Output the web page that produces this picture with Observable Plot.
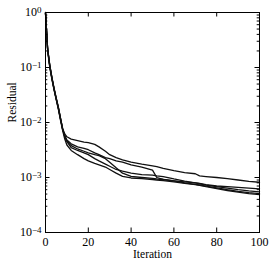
<!DOCTYPE html>
<html><head><meta charset="utf-8">
<script src="https://cdn.jsdelivr.net/npm/d3@7"></script>
<script src="https://cdn.jsdelivr.net/npm/@observablehq/plot@0.6"></script>
<style>body{margin:0;background:#fff} svg{display:block}</style>
</head><body><div id="chart"></div>
<script>
const iterations = [0,1,2,3,4,5,6,7,8,9,10,12,15,18,20,23,25,28,30,33,36,40,45,50,52,55,60,65,70,72,75,80,85,90,95,100];
const runA = [1.0,0.22,0.11,0.066,0.042,0.028,0.019,0.012,0.0078,0.0062,0.0055,0.005,0.0047,0.0044,0.0043,0.004,0.0036,0.003,0.0026,0.0023,0.0021,0.0019,0.00175,0.00163,0.00158,0.00146,0.00133,0.00123,0.00117,0.00107,0.00104,0.001,0.00095,0.0009,0.00085,0.00082];
const runB = [0.97,0.21,0.105,0.063,0.04,0.027,0.018,0.0115,0.0075,0.0058,0.0048,0.0041,0.0036,0.0034,0.0032,0.0028,0.0026,0.0023,0.0022,0.002,0.0019,0.0017,0.00155,0.00136,0.001,0.00092,0.00087,0.00083,0.0008,0.00078,0.00074,0.0007,0.00068,0.00066,0.00064,0.00062];
const runC = [0.98,0.215,0.108,0.064,0.041,0.027,0.0185,0.0118,0.0076,0.0055,0.0045,0.0035,0.0031,0.0028,0.0026,0.0022,0.002,0.00175,0.0016,0.0014,0.0013,0.0012,0.00113,0.0011,0.00107,0.00104,0.00094,0.00086,0.0008,0.00077,0.00073,0.00068,0.00064,0.0006,0.00057,0.00055];
const runD = [0.96,0.2,0.1,0.061,0.039,0.026,0.0175,0.011,0.0072,0.005,0.0039,0.0031,0.0026,0.0022,0.002,0.0018,0.0017,0.00155,0.0014,0.0012,0.00105,0.00098,0.00095,0.00092,0.0009,0.00088,0.00083,0.00078,0.00074,0.00072,0.00068,0.00063,0.00058,0.00054,0.00051,0.00049];
const runE = [0.99,0.22,0.107,0.065,0.041,0.0275,0.0188,0.012,0.0077,0.0056,0.0046,0.0038,0.0033,0.003,0.0028,0.0026,0.0025,0.0022,0.0019,0.0015,0.0012,0.00105,0.001,0.00096,0.00094,0.00092,0.00087,0.0008,0.00075,0.00073,0.0007,0.00065,0.0006,0.00056,0.00053,0.00051];
const xTicks = [0,20,40,60,80,100];
const yTicks = [1e-4,1e-3,1e-2,1e-1,1];
const yMinorTicks = [2e-4,3e-4,4e-4,5e-4,6e-4,7e-4,8e-4,9e-4,2e-3,3e-3,4e-3,5e-3,6e-3,7e-3,8e-3,9e-3,2e-2,3e-2,4e-2,5e-2,6e-2,7e-2,8e-2,9e-2,0.2,0.3,0.4,0.5,0.6,0.7,0.8,0.9];
const xLabel = "Iteration";
const yLabel = "Residual";

const runs = [runA, runB, runC, runD, runE];
const rows = runs.flatMap((r, k) => iterations.map((it, i) => ({run: k, iteration: it, residual: r[i]})));

const W = 274, H = 267, mL = 45, mR = 15, mT = 12, mB = 35;
const iw = W - mL - mR, ih = H - mT - mB;
const major = 4.5, minor = 2.3;

const chart = Plot.plot({
  width: W, height: H,
  marginLeft: mL, marginRight: mR, marginTop: mT, marginBottom: mB,
  style: {fontFamily: "'Liberation Serif', 'DejaVu Serif', serif", fontSize: "12px", background: "#fff", color: "#000"},
  x: {domain: [0, 100]},
  y: {type: "log", domain: [1e-4, 1]},
  marks: [
    Plot.line(rows, {x: "iteration", y: "residual", z: "run", stroke: "#111", strokeWidth: 1.3}),
    Plot.ruleY(yTicks, {insetRight: iw - major, stroke: "#000"}),
    Plot.ruleY(yTicks, {insetLeft: iw - major, stroke: "#000"}),
    Plot.ruleY(yMinorTicks, {insetRight: iw - minor, stroke: "#000"}),
    Plot.ruleY(yMinorTicks, {insetLeft: iw - minor, stroke: "#000"}),
    Plot.ruleX(xTicks, {insetTop: ih - major, stroke: "#000"}),
    Plot.ruleX(xTicks, {insetBottom: ih - major, stroke: "#000"}),
    Plot.frame({stroke: "#000", strokeWidth: 1}),
    Plot.axisX(xTicks, {tickSize: 0, tickPadding: 5, label: null, fontSize: 12}),
    Plot.axisY(yTicks, {tickSize: 0, tickPadding: 4, label: null, fontSize: 12,
      tickFormat: d => "10|" + String(Math.round(Math.log10(d))).replace("-", "\u2212")}),
    Plot.text([xLabel], {frameAnchor: "bottom", dy: 25, lineAnchor: "bottom", fontSize: 11.5}),
    Plot.text([yLabel], {frameAnchor: "left", dx: -33, rotate: -90, fontSize: 11.5})
  ]
});

d3.select(chart).selectAll('g[aria-label="y-axis tick label"] text').each(function() {
  const t = d3.select(this);
  const s = t.text();
  if (!s.includes("|")) return;
  const [base, exp] = s.split("|");
  t.text(null);
  t.append("tspan").text(base);
  t.append("tspan").attr("dy", "-0.42em").attr("font-size", "9px").text(exp);
});

document.getElementById("chart").appendChild(chart);
</script>
</body></html>
